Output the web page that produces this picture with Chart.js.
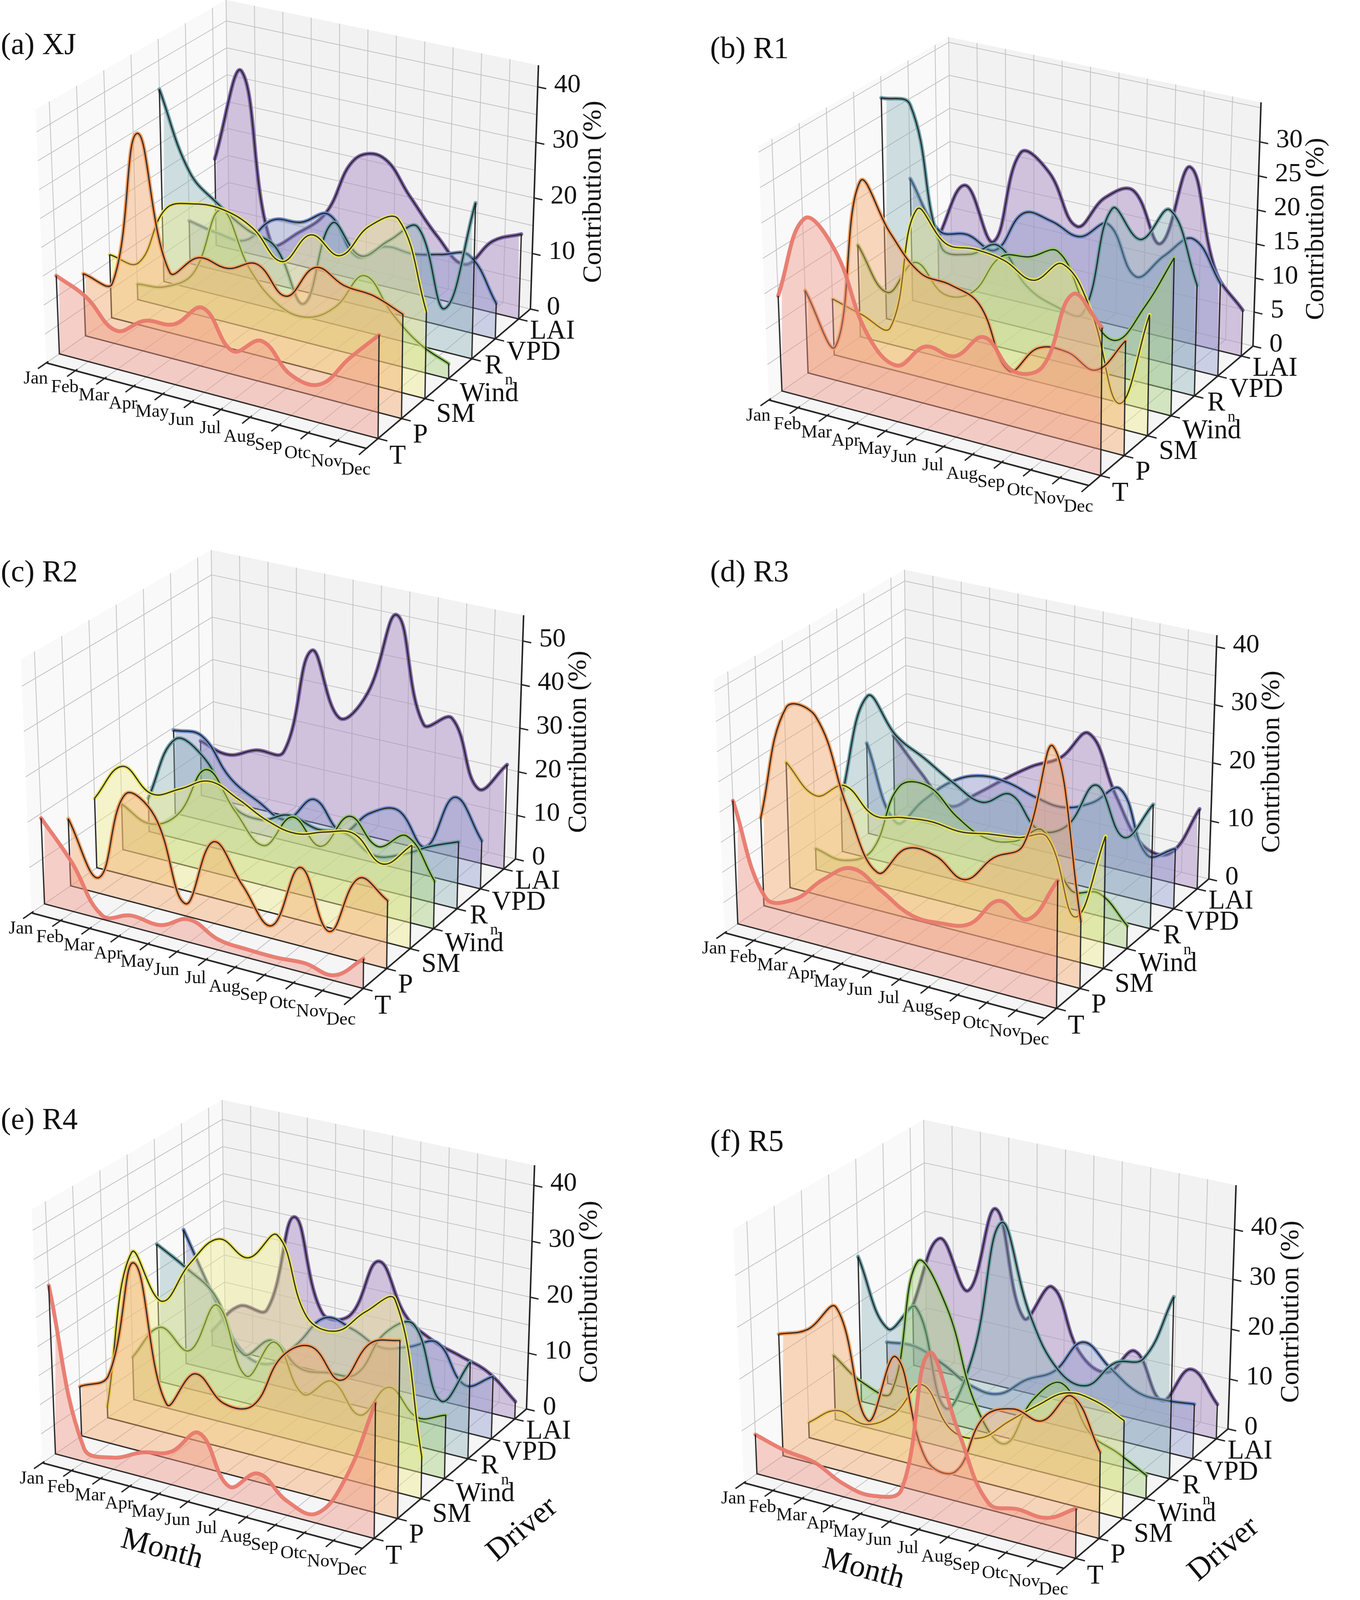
<!DOCTYPE html>
<html>
<head>
<meta charset="utf-8">
<script src="https://cdn.jsdelivr.net/npm/chart.js@4.4.1/dist/chart.umd.min.js"></script>
<style>
  html, body { margin: 0; padding: 0; background: #fff; }
  #fig { position: relative; width: 3482px; height: 4098px; background: #fff; }
  #fig canvas { position: absolute; }
</style>
</head>
<body>
<div id="fig"></div>
<script>
// ---- data ----
const months = ['Jan', 'Feb', 'Mar', 'Apr', 'May', 'Jun', 'Jul', 'Aug', 'Sep', 'Otc', 'Nov', 'Dec'];
const drivers = ['T', 'P', 'SM', 'Wind', 'Rn', 'VPD', 'LAI'];

// contribution (%), one row per driver (same order as `drivers`), one value per month
const xjValues = [
    [13.6, 11.2, 6.7, 9.7, 10.4, 14.5, 8.4, 11.4, 6.9, 6.6, 12.3, 17.5],
    [10.9, 10.5, 38.0, 15.0, 18.8, 18.2, 20.2, 15.9, 22.1, 20.2, 19.7, 17.8],
    [11.2, 11.0, 21.8, 23.9, 24.1, 22.1, 17.5, 23.4, 21.0, 27.3, 29.7, 15.0],
    [2.8, 3.6, 7.3, 19.8, 10.4, 5.4, 4.5, 7.6, 14.3, 8.8, 4.7, 2.6],
    [34.8, 21.0, 16.4, 13.1, 11.2, 2.3, 17.9, 13.3, 17.2, 20.8, 7.6, 27.4],
    [7.8, 6.8, 6.7, 11.6, 12.4, 15.0, 8.6, 11.6, 11.5, 12.6, 13.6, 6.3],
    [16.0, 33.3, 2.9, 6.0, 10.9, 21.7, 23.3, 17.3, 11.3, 7.4, 12.8, 15.2]
];
const r1Values = [
    [13.5, 25.5, 22.0, 11.4, 7.9, 11.6, 11.3, 15.0, 11.3, 13.0, 24.0, 20.4],
    [11.8, 4.9, 29.4, 23.0, 18.4, 17.8, 16.0, 7.7, 11.9, 12.4, 10.9, 16.0],
    [8.1, 6.9, 6.0, 24.0, 20.1, 20.3, 19.7, 17.9, 21.2, 15.4, 3.5, 17.0],
    [13.4, 7.5, 12.9, 9.3, 10.6, 16.7, 17.7, 19.4, 12.3, 8.7, 14.4, 22.4],
    [32.6, 32.5, 12.6, 12.5, 14.8, 9.9, 8.0, 7.9, 24.0, 20.5, 25.7, 15.9],
    [18.2, 11.4, 11.8, 10.5, 16.9, 16.7, 15.4, 18.2, 11.5, 15.5, 18.9, 13.4],
    [6.7, 15.6, 8.1, 22.4, 20.4, 13.3, 18.5, 20.5, 13.6, 25.8, 11.4, 6.7]
];
const r2Values = [
    [19.0, 10.9, 0.8, 2.5, 2.1, 5.0, 2.3, 1.8, 1.7, 2.1, 1.2, 6.4],
    [15.0, 3.5, 23.7, 20.4, 2.7, 18.0, 10.0, 2.8, 17.2, 4.8, 18.0, 14.8],
    [15.7, 24.5, 19.9, 22.6, 25.9, 23.5, 20.3, 19.0, 20.9, 22.1, 17.0, 22.7],
    [10.4, 7.5, 11.4, 23.0, 15.1, 9.0, 17.0, 12.0, 20.3, 15.1, 19.0, 10.6],
    [7.7, 22.8, 20.2, 10.7, 9.1, 11.7, 10.1, 10.7, 7.3, 9.0, 12.4, 15.0],
    [19.4, 19.6, 11.4, 7.5, 4.9, 11.1, 5.2, 11.0, 13.2, 6.4, 19.2, 10.9],
    [12.8, 11.1, 13.7, 14.8, 39.9, 25.7, 33.0, 52.4, 28.6, 31.5, 16.8, 23.8]
];
const r3Values = [
    [20.5, 5.6, 6.6, 11.1, 14.2, 11.7, 9.0, 8.9, 10.0, 15.0, 13.2, 20.7],
    [14.8, 34.5, 34.1, 20.1, 10.5, 15.7, 15.7, 13.0, 17.8, 21.0, 38.4, 11.0],
    [21.3, 16.8, 19.7, 15.9, 16.7, 17.2, 16.7, 17.5, 18.1, 19.3, 7.3, 21.8],
    [3.6, 2.8, 5.7, 17.8, 19.0, 15.0, 12.6, 13.2, 16.2, 7.4, 8.0, 3.8],
    [9.0, 28.0, 22.3, 19.5, 16.5, 14.4, 16.9, 12.0, 13.9, 21.9, 14.2, 20.9],
    [15.8, 3.1, 8.1, 12.5, 14.7, 14.7, 13.3, 12.7, 14.6, 18.1, 8.0, 10.2],
    [14.1, 8.5, 4.0, 7.3, 11.0, 14.4, 17.0, 22.3, 12.6, 5.2, 5.0, 13.7]
];
const r4Values = [
    [29.1, 2.3, 2.0, 4.2, 5.6, 10.1, 2.3, 5.8, 2.4, 1.6, 8.8, 22.8],
    [8.6, 11.7, 32.6, 9.4, 15.9, 12.0, 13.0, 22.6, 25.5, 21.0, 28.5, 30.2],
    [2.0, 30.3, 23.0, 30.8, 36.3, 34.2, 39.3, 26.3, 25.1, 29.6, 32.9, 7.2],
    [7.6, 14.1, 11.2, 20.5, 9.2, 16.4, 8.5, 12.0, 7.3, 13.4, 9.4, 11.0],
    [24.7, 21.7, 18.0, 8.6, 12.3, 8.6, 9.0, 10.0, 18.4, 21.1, 8.9, 16.9],
    [24.3, 13.7, 4.8, 3.6, 8.4, 14.3, 13.4, 11.4, 12.7, 14.6, 8.3, 11.0],
    [2.7, 8.4, 8.9, 27.0, 10.7, 11.5, 22.4, 13.7, 10.4, 8.8, 7.1, 3.1]
];
const r5Values = [
    [7.6, 6.0, 5.2, 2.5, 1.7, 4.3, 31.8, 18.0, 6.1, 6.4, 6.2, 9.4],
    [23.8, 26.1, 31.8, 11.2, 25.0, 6.5, 5.6, 17.5, 20.5, 19.6, 25.7, 16.4],
    [3.0, 6.8, 5.5, 8.9, 16.1, 8.7, 8.5, 13.1, 17.6, 21.4, 21.2, 18.8],
    [12.8, 8.8, 8.2, 35.5, 27.8, 9.7, 3.7, 13.8, 18.3, 9.9, 7.4, 4.5],
    [29.2, 16.0, 21.7, 2.9, 14.9, 42.5, 25.7, 16.0, 14.2, 20.0, 22.2, 35.6],
    [8.4, 8.9, 6.7, 3.7, 3.4, 7.6, 10.7, 17.8, 13.9, 10.4, 10.2, 10.8],
    [12.3, 27.4, 18.0, 36.0, 15.0, 22.7, 10.8, 8.0, 13.6, 5.0, 12.6, 6.9]
];

// z tick labels of each panel
const xjTicks = [0, 10, 20, 30, 40];
const r1Ticks = [0, 5, 10, 15, 20, 25, 30];
const r2Ticks = [0, 10, 20, 30, 40, 50];
const r3Ticks = [0, 10, 20, 30, 40];
const r4Ticks = [0, 10, 20, 30, 40];
const r5Ticks = [0, 10, 20, 30, 40];

// ---- styles ----
const driverStyles = [
    { line: 'rgba(232,121,109,0.95)', fill: 'rgba(240,150,135,0.44)' },
    { line: 'rgba(243,154,92,0.95)',  fill: 'rgba(246,168,105,0.42)' },
    { line: 'rgba(231,228,92,0.95)',  fill: 'rgba(240,236,135,0.42)' },
    { line: 'rgba(147,199,102,0.95)', fill: 'rgba(165,208,120,0.42)' },
    { line: 'rgba(106,159,166,0.95)', fill: 'rgba(130,175,180,0.36)' },
    { line: 'rgba(110,139,196,0.95)', fill: 'rgba(140,150,205,0.40)' },
    { line: 'rgba(125,99,166,0.95)',  fill: 'rgba(170,140,195,0.47)' }
];
const SERIF = '"Liberation Serif", "Times New Roman", serif';
const DARK = '#262626';
const EDGE = 'rgba(30,30,30,0.9)';
const GRID = '#c2c2c2';

// ---- panel layout ----
const CANVAS_W = 1741, CANVAS_H = 1366;
const panels = [
    { title: '(a) XJ', values: xjValues, ticks: xjTicks, zMax: 43.9, zGrid: 5,  origin: [118.5, 929],  titleAt: [2, 118] },
    { title: '(b) R1', values: r1Values, ticks: r1Ticks, zMax: 35.8, zGrid: 5,  origin: [227.5, 1024], titleAt: [77, 128] },
    { title: '(c) R2', values: r2Values, ticks: r2Ticks, zMax: 55.9, zGrid: 10, origin: [80.5, 971],   titleAt: [2, 102] },
    { title: '(d) R3', values: r3Values, ticks: r3Ticks, zMax: 42.0, zGrid: 5,  origin: [114.5, 1022], titleAt: [77, 102] },
    { title: '(e) R4', values: r4Values, ticks: r4Ticks, zMax: 43.6, zGrid: 5,  origin: [108.5, 1013], titleAt: [2, 138], axisTitles: true },
    { title: '(f) R5', values: r5Values, ticks: r5Ticks, zMax: 48.9, zGrid: 10, origin: [163.5, 1064], titleAt: [77, 194], axisTitles: true }
];

// 3D box: floor corners relative to front-left corner (Jan, d=-0.5), depth scale per corner
const FLOOR_FR = [819.5, 219], FLOOR_BR = [1239.5, -138], FLOOR_BL = [468.5, -324];
const DEPTH = [1.04, 1.07, 1.0, 0.97];
const BOX_H = 624;
const M_MIN = 1, M_MAX = 12, D_MIN = -0.5, D_MAX = 6.5;

function makeProjection(panel) {
    return (m, d, z) => {
        const u = (m - M_MIN) / (M_MAX - M_MIN);
        const v = (d - D_MIN) / (D_MAX - D_MIN);
        const w0 = (1 - u) * (1 - v), w1 = u * (1 - v), w2 = u * v, w3 = (1 - u) * v;
        const bx = w1 * FLOOR_FR[0] + w2 * FLOOR_BR[0] + w3 * FLOOR_BL[0];
        const by = w1 * FLOOR_FR[1] + w2 * FLOOR_BR[1] + w3 * FLOOR_BL[1];
        const s = (w0 * DEPTH[0] + w1 * DEPTH[1] + w2 * DEPTH[2] + w3 * DEPTH[3]) * BOX_H / panel.zMax;
        const h = z * s;
        const lean = (bx - 694) * 6.05e-5;
        return { x: panel.origin[0] + bx + lean * h, y: panel.origin[1] + by - h };
    };
}

// datasets for the ridges: fill + coloured line, black outline, frame (verticals + base), invisible base
function buildDatasets(panel, proj) {
    const sets = [];
    drivers.forEach((name, d) => {
        const vals = panel.values[d];
        const curve = vals.map((v, i) => proj(i + 1, d, v));
        const base = vals.map((v, i) => proj(i + 1, d, 0));
        const frame = [proj(1, d, vals[0]), proj(1, d, 0), proj(12, d, 0), proj(12, d, vals[11])];
        const idx = sets.length;
        const st = driverStyles[d];
        sets.push({ label: name, data: curve, tension: 0.4, borderColor: st.line, borderWidth: 10,
            backgroundColor: st.fill, fill: idx + 3, pointRadius: 0, order: d * 10 + 3,
            borderCapStyle: 'round', borderJoinStyle: 'round' });
        // the front ridge (T) shows its coloured line on top, without the dark outline
        sets.push({ label: name + ' outline', data: curve, tension: 0.4, borderColor: EDGE,
            borderWidth: d === 0 ? 0 : 3.2, fill: false, pointRadius: 0, order: d * 10 + 1 });
        sets.push({ label: name + ' frame', data: frame, tension: 0, borderColor: EDGE, borderWidth: 3.5,
            fill: false, pointRadius: 0, order: d * 10 });
        sets.push({ label: name + ' base', data: base, tension: 0, borderColor: 'rgba(0,0,0,0)', borderWidth: 0,
            fill: false, pointRadius: 0, order: d * 10 + 4 });
    });
    return sets;
}

// panes, grid, axes, ticks and all labels
function boxPlugin(panel, proj) {
    return {
        id: 'box3d',
        beforeDatasetsDraw(chart) {
            const ctx = chart.ctx;
            const xs = chart.scales.x, ys = chart.scales.y;
            const P = (m, d, z) => {
                const q = proj(m, d, z);
                return [xs.getPixelForValue(q.x), ys.getPixelForValue(q.y)];
            };
            const poly = (pts, color) => {
                ctx.beginPath();
                ctx.moveTo(pts[0][0], pts[0][1]);
                pts.slice(1).forEach(p => ctx.lineTo(p[0], p[1]));
                ctx.closePath();
                ctx.fillStyle = color;
                ctx.fill();
            };
            const seg = (a, b, color, w) => {
                ctx.beginPath();
                ctx.moveTo(a[0], a[1]);
                ctx.lineTo(b[0], b[1]);
                ctx.strokeStyle = color;
                ctx.lineWidth = w;
                ctx.stroke();
            };
            const zTop = panel.zMax;
            ctx.save();
            ctx.lineCap = 'butt';

            // panes
            poly([P(1, D_MIN, 0), P(12, D_MIN, 0), P(12, D_MAX, 0), P(1, D_MAX, 0)], '#f5f5f5');
            poly([P(1, D_MIN, 0), P(1, D_MAX, 0), P(1, D_MAX, zTop), P(1, D_MIN, zTop)], '#f9f9f9');
            poly([P(1, D_MAX, 0), P(12, D_MAX, 0), P(12, D_MAX, zTop), P(1, D_MAX, zTop)], '#f2f2f2');

            // grid
            months.forEach((lab, i) => {
                const m = i + 1;
                seg(P(m, D_MIN, 0), P(m, D_MAX, 0), GRID, 2);
                seg(P(m, D_MAX, 0), P(m, D_MAX, zTop), GRID, 2);
            });
            drivers.forEach((lab, d) => {
                seg(P(1, d, 0), P(12, d, 0), GRID, 2);
                seg(P(1, d, 0), P(1, d, zTop), GRID, 2);
            });
            for (let z = 0; z <= zTop + 1e-6; z += panel.zGrid) {
                seg(P(1, D_MIN, z), P(1, D_MAX, z), GRID, 2);
                seg(P(1, D_MAX, z), P(12, D_MAX, z), GRID, 2);
            }

            // axis lines
            seg(P(1, D_MIN, 0), P(12, D_MIN, 0), DARK, 4);
            seg(P(12, D_MIN, 0), P(12, D_MAX, 0), DARK, 4);
            seg(P(12, D_MAX, 0), P(12, D_MAX, zTop), DARK, 4);

            ctx.fillStyle = '#111';
            ctx.textBaseline = 'middle';

            // month ticks + labels
            ctx.font = '47px ' + SERIF;
            ctx.textAlign = 'center';
            months.forEach((lab, i) => {
                const m = i + 1;
                seg(P(m, D_MIN + 0.08, 0), P(m, D_MIN - 0.32, 0), DARK, 3.5);
                const p = P(m, D_MIN, 0);
                ctx.fillText(lab, p[0] - 27, p[1] + 41 + 14 * i / 11);
            });

            // driver ticks + labels
            ctx.textAlign = 'left';
            drivers.forEach((lab, d) => {
                seg(P(11.92, d, 0), P(12.32, d, 0), DARK, 3.5);
                const p = P(12, d, 0);
                const x = p[0] + 29, y = p[1] + 46 - 2.2 * d;
                ctx.font = '69px ' + SERIF;
                if (lab === 'Rn') {
                    ctx.fillText('R', x + 4, y - 18);
                    const w = ctx.measureText('R').width;
                    ctx.font = '40px ' + SERIF;
                    ctx.fillText('n', x + w + 10, y + 18);
                } else {
                    ctx.fillText(lab, x, y);
                }
            });

            // z ticks + labels
            ctx.font = '68px ' + SERIF;
            panel.ticks.forEach(t => {
                seg(P(12, D_MAX, t), P(12.3, D_MAX, t), DARK, 3.5);
                const p = P(12, D_MAX, t);
                ctx.fillText(String(t), p[0] + 42, p[1] - 4);
            });

            // z axis title
            const mid = P(12, D_MAX, zTop / 2);
            ctx.save();
            ctx.translate(mid[0] + 152, mid[1] + 12);
            ctx.rotate(-Math.PI / 2);
            ctx.textAlign = 'center';
            ctx.fillText('Contribution (%)', 0, 0);
            ctx.restore();

            // month / driver axis titles
            if (panel.axisTitles) {
                const o = P(1, D_MIN, 0);
                ctx.font = '80px ' + SERIF;
                ctx.textAlign = 'center';
                ctx.save();
                ctx.translate(o[0] + 306, o[1] + 222);
                ctx.rotate(15 * Math.PI / 180);
                ctx.fillText('Month', 0, 0);
                ctx.restore();
                ctx.save();
                ctx.translate(o[0] + 1229, o[1] + 171);
                ctx.rotate(-40 * Math.PI / 180);
                ctx.fillText('Driver', 0, 0);
                ctx.restore();
            }

            // panel title
            ctx.font = '78px ' + SERIF;
            ctx.textAlign = 'left';
            ctx.fillText(panel.title, panel.titleAt[0], panel.titleAt[1]);
            ctx.restore();
        }
    };
}

// ---- build charts ----
const fig = document.getElementById('fig');
panels.forEach((panel, i) => {
    const canvas = document.createElement('canvas');
    canvas.width = CANVAS_W;
    canvas.height = CANVAS_H;
    canvas.style.width = CANVAS_W + 'px';
    canvas.style.height = CANVAS_H + 'px';
    canvas.style.left = (i % 2) * CANVAS_W + 'px';
    canvas.style.top = Math.floor(i / 2) * CANVAS_H + 'px';
    fig.appendChild(canvas);

    const proj = makeProjection(panel);
    new Chart(canvas.getContext('2d'), {
        type: 'line',
        data: { datasets: buildDatasets(panel, proj) },
        options: {
            responsive: false,
            maintainAspectRatio: false,
            animation: false,
            devicePixelRatio: 1,
            events: [],
            layout: { padding: 0 },
            scales: {
                x: { type: 'linear', min: 0, max: CANVAS_W, display: false },
                y: { type: 'linear', min: 0, max: CANVAS_H, reverse: true, display: false }
            },
            plugins: {
                legend: { display: false },
                tooltip: { enabled: false },
                title: { display: false }
            }
        },
        plugins: [boxPlugin(panel, proj)]
    });
});
</script>
</body>
</html>
